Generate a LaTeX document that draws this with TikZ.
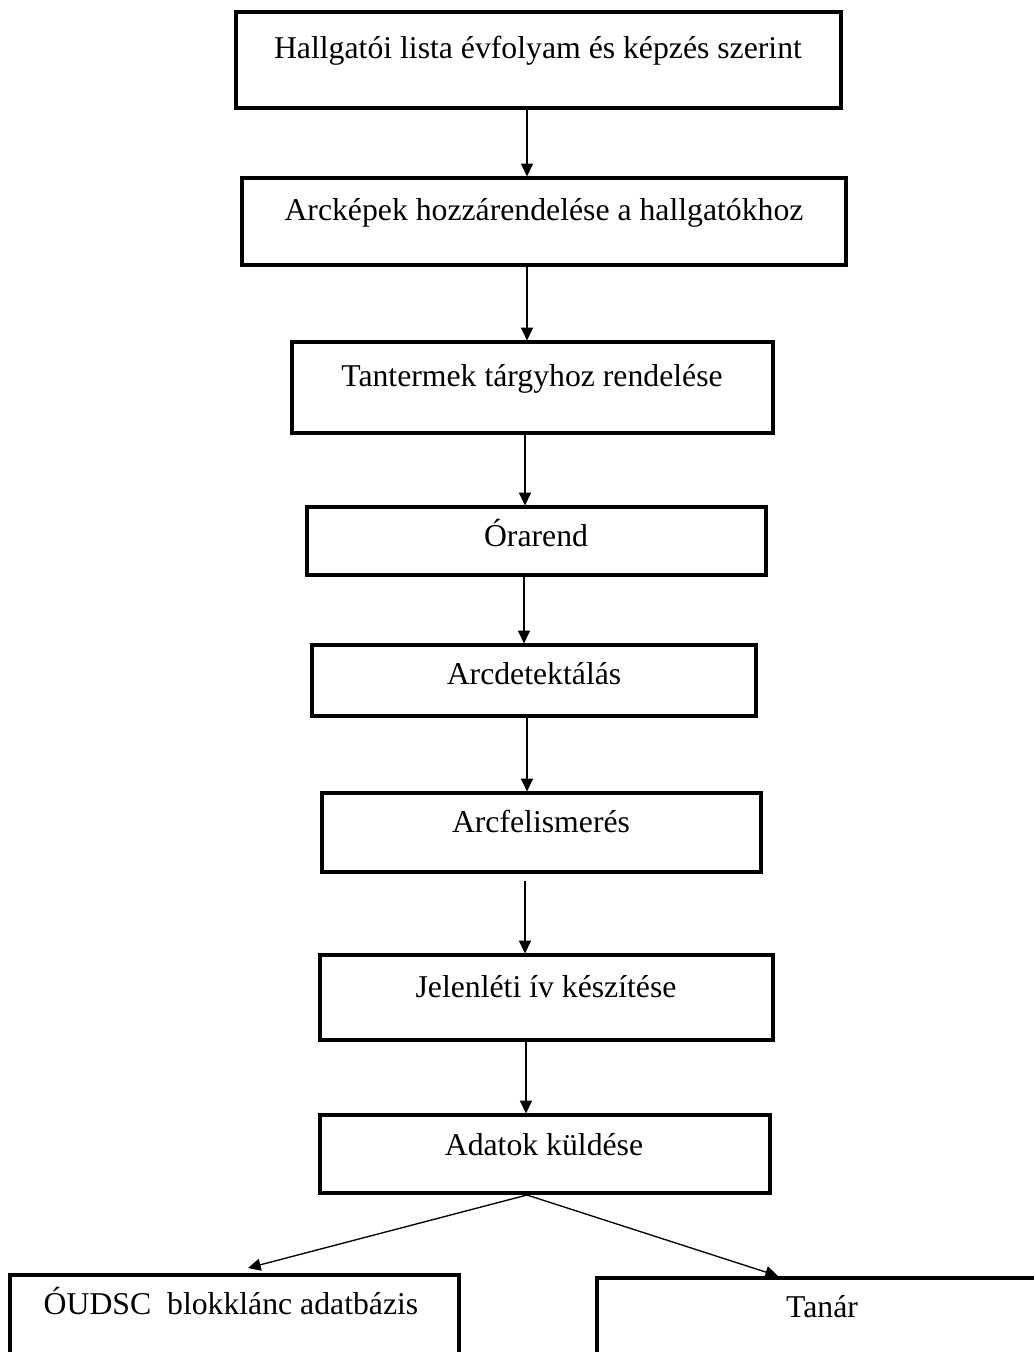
\documentclass[tikz,border=0pt]{standalone}
\usepackage{fontspec}
\setmainfont{Liberation Serif}
\usetikzlibrary{fit,arrows.meta}
\begin{document}
\begin{tikzpicture}[x=0.75pt,y=-0.75pt,
  box/.style={draw=black,line width=2.4pt,inner sep=0pt},
  lbl/.style={anchor=base,inner sep=0pt,font=\fontsize{23.8pt}{28pt}\selectfont},
  arr/.style={line width=1pt,-{Triangle[length=9.5pt,width=9pt]}}]
\useasboundingbox (0,0) rectangle (1034,1352);
\node[box,fit={(236,12)(841,108)}] (b1) {};
\node[box,fit={(242,178)(846,265)}] (b2) {};
\node[box,fit={(292,342)(773,433)}] (b3) {};
\node[box,fit={(307,507)(766,575)}] (b4) {};
\node[box,fit={(312,645)(756,716)}] (b5) {};
\node[box,fit={(322,793)(761,872)}] (b6) {};
\node[box,fit={(320,955)(773,1040)}] (b7) {};
\node[box,fit={(320,1115)(770,1193)}] (b8) {};
\node[box,fit={(10,1275)(459,1362)}] (b9) {};
\node[box,fit={(597,1278)(1044,1362)}] (b10) {};
\node[lbl] (t1) at (538,59) {Hallgatói lista évfolyam és képzés szerint};
\node[lbl] (t2) at (544,220) {Arcképek hozzárendelése a hallgatókhoz};
\node[lbl] (t3) at (532,386) {Tantermek tárgyhoz rendelése};
\node[lbl] (t4) at (536,546) {Órarend};
\node[lbl] (t5) at (534,684) {Arcdetektálás};
\node[lbl] (t6) at (541,832) {Arcfelismerés};
\node[lbl] (t7) at (546,997) {Jelenléti ív készítése};
\node[lbl] (t8) at (544,1155) {Adatok küldése};
\node[lbl] (t9) at (231,1314) {ÓUDSC\ \ blokklánc adatbázis};
\node[lbl] (t10) at (822,1317) {Tanár};
\coordinate (xa) at (527,0);
\coordinate (xb) at (525,0);
\coordinate (xc) at (524,0);
\coordinate (xd) at (526,0);
\coordinate (g6) at (525,881);
\coordinate (s9) at (527,1195);
\coordinate (e9) at (248,1268);
\coordinate (e10) at (778,1276);
\draw[arr] (xa |- b1.south) -- (xa |- b2.north);
\draw[arr] (xa |- b2.south) -- (xa |- b3.north);
\draw[arr] (xb |- b3.south) -- (xb |- b4.north);
\draw[arr] (xc |- b4.south) -- (xc |- b5.north);
\draw[arr] (xa |- b5.south) -- (xa |- b6.north);
\draw[arr] (g6) -- (xb |- b7.north);
\draw[arr] (xd |- b7.south) -- (xd |- b8.north);
\draw[arr] (s9) -- (e9);
\draw[arr] (s9) -- (e10);
\end{tikzpicture}
\end{document}
